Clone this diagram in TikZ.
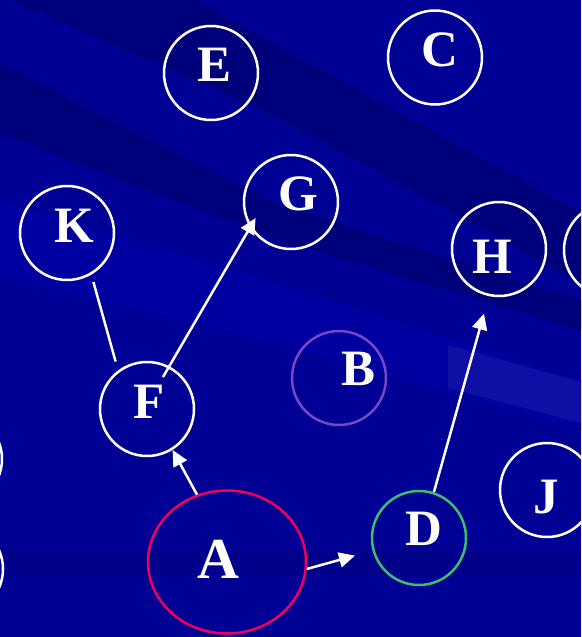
\documentclass[tikz,border=0pt]{standalone}
\usepackage{fontspec}
\setmainfont{Liberation Serif}
\usetikzlibrary{arrows.meta,calc,shapes.geometric}
\definecolor{bgblue}{RGB}{0,0,148}
\definecolor{darkband}{RGB}{0,0,122}
\definecolor{lightband}{RGB}{0,0,160}
\definecolor{pinkred}{RGB}{240,0,90}
\definecolor{dgreen}{RGB}{60,190,110}
\definecolor{bpurple}{RGB}{120,70,200}
\begin{document}
\begin{tikzpicture}[x=1pt,y=-1pt,
  nd/.style={circle,draw=white,line width=2.5pt,minimum size=94pt,inner sep=0pt},
  lbl/.style={text=white,font=\fontsize{51}{51}\selectfont\bfseries,inner sep=0pt},
  arr/.style={draw=white,line width=2.5pt,-{Triangle[length=16pt,width=15pt]}},
  ln/.style={draw=white,line width=2.5pt}]
\useasboundingbox (0,0) rectangle (581,637);
\clip (0,0) rectangle (581,637);
% background
\fill[bgblue] (0,0) rectangle (581,637);
\fill[darkband] (11,0) -- (195,0) -- (581,213) -- (581,283) -- (280,118) -- cycle;
\fill[darkband] (0,63) -- (280,205) -- (581,300) -- (581,330) -- (280,240) -- (0,133) -- cycle;
\fill[lightband] (0,200) -- (300,290) -- (581,380) -- (581,430) -- (300,350) -- (0,277) -- cycle;
\fill[white,opacity=0.06] (448,345) -- (581,382) -- (581,423) -- (448,388) -- cycle;
\fill[darkband,opacity=0.35] (0,550) rectangle (581,575);
% nodes
\node[nd] (E) at (211,73) {};
\node[nd] (C) at (435,57.5) {};
\node[nd] (G) at (291,202) {};
\node[nd] (K) at (67,233) {};
\node[nd] (H) at (499,249) {};
\node[nd] (I) at (611,250) {};
\node[nd,draw=bpurple] (B) at (339,378) {};
\node[nd] (F) at (147,409) {};
\node[nd] (J) at (547,490) {};
\node[nd,draw=dgreen] (D) at (419,538) {};
\node[ellipse,draw=pinkred,line width=2.5pt,minimum width=158pt,minimum height=143pt,inner sep=0pt] (A) at (227,562) {};
\node[nd] (L1) at (-45,459) {};
\node[nd] (L2) at (-44,569) {};
% labels
\node[lbl] (Et) at (214.6,65) {E};
\node[lbl] (Ct) at (440,50) {C};
\node[lbl] (Gt) at (298,193.5) {G};
\node[lbl] (Kt) at (74,226) {K};
\node[lbl] (Ht) at (492,257) {H};
\node[lbl] (Bt) at (359,369) {B};
\node[lbl] (Ft) at (149,401.7) {F};
\node[lbl] (Jt) at (546,497) {J};
\node[lbl] (Dt) at (424,529) {D};
\node[lbl,font=\fontsize{58}{58}\selectfont\bfseries] (At) at (218,559) {A};
% connectors
\coordinate (tAD) at (355,555.6);
\coordinate (tDH) at (484,313.6);
\draw[ln] ($(K.center)+(26.4,49)$) -- ($(F.center)+(-31.4,-47.5)$);
\draw[arr] ($(F.center)+(16,-32)$) -- ($(G.center)+(-35.4,16)$);
\draw[arr] (A.114) -- (F.-58.5);
\draw[arr] (A.-5) -- (tAD);
\draw[arr] (D.72) -- (tDH);
\end{tikzpicture}
\end{document}
